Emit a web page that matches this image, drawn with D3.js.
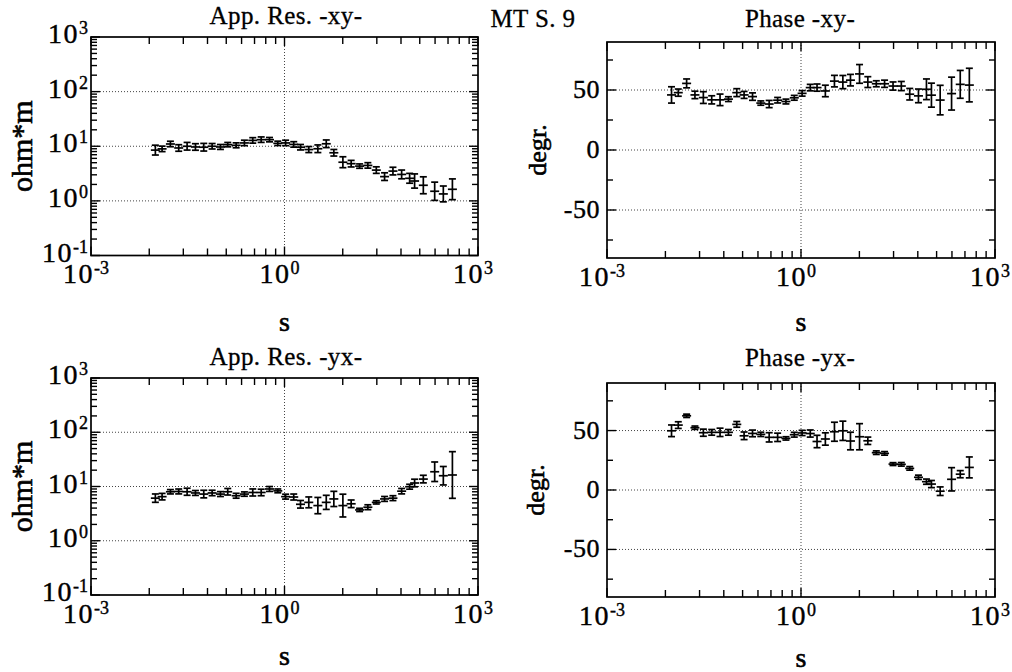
<!DOCTYPE html>
<html><head><meta charset="utf-8">
<script src="https://cdn.jsdelivr.net/npm/d3@7"></script>
<style>
body{margin:0;background:#fff;}
svg{display:block;font-family:"Liberation Serif","Times New Roman",serif;}
</style></head><body>
<svg id="c" width="1012" height="672"></svg>
<script>
// ---------------- data ----------------
const periods = [0.00995, 0.01265, 0.01703, 0.0229, 0.0309, 0.0416, 0.056, 0.0755, 0.1016, 0.1318,
  0.178, 0.239, 0.322, 0.435, 0.585, 0.787, 1.04, 1.39, 1.77, 2.38,
  3.29, 4.44, 5.82, 8.04, 10.8, 14.6, 19.6, 26.5, 35.6, 48.0,
  65.5, 87.1, 104, 142, 213, 290, 401];

const rhoXY = [8.5, 8.95, 11.0, 9.3, 10.0, 9.7, 9.6, 10.0, 9.7, 10.7,
  10.4, 11.5, 12.8, 13.2, 13.2, 11.3, 11.5, 10.8, 9.6, 8.7,
  9.0, 11.1, 7.6, 5.1, 4.8, 4.33, 4.46, 3.66, 2.78, 3.51,
  3.05, 2.59, 2.31, 1.93, 1.5, 1.34, 1.63];
// half-width of the error bar in decades (log10 units)
const rhoXYErr = [0.09, 0.05, 0.05, 0.06, 0.07, 0.06, 0.07, 0.05, 0.045, 0.04,
  0.045, 0.05, 0.05, 0.05, 0.04, 0.04, 0.05, 0.05, 0.05, 0.055,
  0.07, 0.07, 0.06, 0.10, 0.06, 0.04, 0.05, 0.06, 0.07, 0.07,
  0.08, 0.09, 0.13, 0.155, 0.167, 0.145, 0.19];

const phaseXY = [45.9, 47.8, 55.5, 45.9, 43.7, 41.8, 41.8, 42.4, 47.8, 45.9,
  44.5, 39.1, 38.3, 41.5, 40.4, 43.5, 47.2, 52, 52, 49.2,
  57.4, 56.6, 58.2, 63.4, 56.6, 55.2, 55.2, 53.3, 53.3, 46.5,
  45.1, 50.6, 45.7, 41.6, 47, 54.7, 54.1];
const phaseXYErr = [6.8, 3, 3.7, 3.1, 4.9, 3.4, 4.8, 2, 3.3, 2.9,
  3.1, 1.8, 3, 2.3, 2, 2, 2.3, 2.7, 3, 4.8,
  4.8, 5.5, 4.8, 7.8, 4.5, 2.5, 3, 3.4, 3.8, 4.8,
  5.7, 8.6, 10, 12.3, 13.7, 11.6, 14];

const rhoYX = [6.1, 6.5, 8.0, 8.1, 8.0, 7.6, 7.25, 7.6, 7.25, 8.0,
  6.75, 7.25, 7.76, 7.76, 9.0, 8.3, 6.5, 6.4, 4.7, 5.1,
  4.45, 5.1, 5.9, 4.45, 4.8, 3.7, 4.15, 5.1, 5.9, 6.1,
  8.2, 9.9, 11.6, 13.7, 18.7, 15.8, 16.3];
const rhoYXErr = [0.077, 0.06, 0.04, 0.045, 0.065, 0.045, 0.07, 0.05, 0.045, 0.06,
  0.045, 0.04, 0.065, 0.06, 0.045, 0.035, 0.045, 0.055, 0.07, 0.1,
  0.15, 0.13, 0.14, 0.21, 0.07, 0.03, 0.045, 0.03, 0.045, 0.045,
  0.05, 0.045, 0.07, 0.07, 0.18, 0.17, 0.43];

const phaseYX = [49.8, 54.6, 62.4, 52.4, 48.2, 48.5, 48.5, 48.5, 55.2, 45.6,
  47.6, 46.8, 44.3, 44.3, 43.4, 46.5, 48, 47.5, 40.8, 42.9,
  49, 49.8, 41.2, 44.8, 41.4, 31.4, 30.8, 21.8, 21.6, 18.2,
  10.7, 7, 5, -1, 9, 13.3, 19];
const phaseYXErr = [4.9, 2.8, 1.4, 1.4, 3, 2.4, 3.5, 2.4, 2.4, 3.2,
  2.8, 1.8, 3.9, 3.5, 1.4, 2, 2.2, 3, 5.2, 5.2,
  8, 8.1, 7.4, 11, 3.1, 1.5, 1.5, 1.2, 1.5, 1.5,
  1.8, 2.2, 3, 3.6, 9.8, 3, 8.8];

// axis ticks
const xMajorTicks = [0.001, 1, 1000];
const xMajorExp = ["-3", "0", "3"];
const xMinorTicks = [0.008, 0.027, 0.064, 0.125, 0.216, 0.343, 0.512, 0.729,
  8, 27, 64, 125, 216, 343, 512, 729];
const rhoMajorTicks = [0.1, 1, 10, 100, 1000];
const rhoMajorExp = ["-1", "0", "1", "2", "3"];
const rhoGrid = [1, 10, 100];
const phaseMajorTicks = [-50, 0, 50];
const phaseMinorTicks = [-75, -25, 25, 75];
const phaseGrid = [-50, 0, 50];
const xGrid = [1];

const titles = ["App. Res. -xy-", "Phase -xy-", "App. Res. -yx-", "Phase -yx-"];
const mainTitle = "MT S. 9";

// ---------------- drawing ----------------
const svg = d3.select("#c");
svg.append("rect").attr("width", 1012).attr("height", 672).attr("fill", "#fff");

const panels = [
  {title: titles[0], kind: "rho", vals: rhoXY, err: rhoXYErr, box: {l: 91, r: 478, t: 37, b: 255.5}, titleX: 286, titleY: 24, sY: 331, yLab: "ohm*m", yLabX: 21},
  {title: titles[1], kind: "phase", vals: phaseXY, err: phaseXYErr, box: {l: 607, r: 995, t: 42, b: 258}, titleX: 800, titleY: 27, sY: 331, yLab: "degr.", yLabX: 537},
  {title: titles[2], kind: "rho", vals: rhoYX, err: rhoYXErr, box: {l: 91, r: 478, t: 378, b: 595}, titleX: 286, titleY: 365, sY: 665, yLab: "ohm*m", yLabX: 21},
  {title: titles[3], kind: "phase", vals: phaseYX, err: phaseYXErr, box: {l: 607, r: 995, t: 383, b: 597}, titleX: 800, titleY: 366, sY: 667, yLab: "degr.", yLabX: 535}
];

function powText(g, x, y, exp, anchor) {
  const t = g.append("text").attr("x", x).attr("y", y)
    .attr("text-anchor", anchor).attr("font-size", 28).attr("fill", "#000")
    .attr("stroke", "#000").attr("stroke-width", 0.4);
  t.append("tspan").attr("letter-spacing", 1.5).text("10");
  t.append("tspan").attr("dy", -9).attr("font-size", 18).text(exp);
  return t;
}

panels.forEach(p => {
  const b = p.box;
  const g = svg.append("g");
  const x = d3.scaleLog().domain([0.001, 1000]).range([b.l, b.r]);
  const y = p.kind === "rho"
    ? d3.scaleLog().domain([0.1, 1000]).range([b.b, b.t])
    : d3.scaleLinear().domain([-90, 90]).range([b.b, b.t]);

  // grid lines (dotted)
  const grid = g.append("g").attr("stroke", "#444").attr("stroke-width", 1)
    .attr("stroke-dasharray", "1,2");
  (p.kind === "rho" ? rhoGrid : phaseGrid).forEach(v => {
    grid.append("line").attr("x1", b.l).attr("x2", b.r).attr("y1", y(v)).attr("y2", y(v));
  });
  xGrid.forEach(v => {
    grid.append("line").attr("x1", x(v)).attr("x2", x(v)).attr("y1", b.t).attr("y2", b.b);
  });

  // ticks (inward, on all four sides)
  const tk = g.append("g").attr("stroke", "#000").attr("stroke-width", 1.4);
  const xt = (v, len) => {
    tk.append("line").attr("x1", x(v)).attr("x2", x(v)).attr("y1", b.b).attr("y2", b.b - len);
    tk.append("line").attr("x1", x(v)).attr("x2", x(v)).attr("y1", b.t).attr("y2", b.t + len);
  };
  xMajorTicks.forEach(v => xt(v, 9));
  xMinorTicks.forEach(v => xt(v, 7));
  const yt = (v, len) => {
    tk.append("line").attr("x1", b.l).attr("x2", b.l + len).attr("y1", y(v)).attr("y2", y(v));
    tk.append("line").attr("x1", b.r).attr("x2", b.r - len).attr("y1", y(v)).attr("y2", y(v));
  };
  if (p.kind === "rho") {
    rhoMajorTicks.forEach(v => yt(v, 9));
    y.ticks().filter(v => rhoMajorTicks.indexOf(v) < 0).forEach(v => yt(v, 6));
  } else {
    phaseMajorTicks.forEach(v => yt(v, 9));
    phaseMinorTicks.forEach(v => yt(v, 6));
  }

  // frame
  g.append("rect").attr("x", b.l).attr("y", b.t).attr("width", b.r - b.l).attr("height", b.b - b.t)
    .attr("fill", "none").attr("stroke", "#000").attr("stroke-width", 1.7);

  // tick labels
  xMajorTicks.forEach((v, i) => powText(g, x(v) - 5, b.b + 27.5, xMajorExp[i], "middle"));
  if (p.kind === "rho") {
    rhoMajorTicks.forEach((v, i) => powText(g, b.l - 3, y(v) + 6, rhoMajorExp[i], "end"));
  } else {
    phaseMajorTicks.forEach(v => g.append("text").attr("x", b.l - 7).attr("y", y(v) + 8)
      .attr("text-anchor", "end").attr("font-size", 26).attr("letter-spacing", 0.5)
      .attr("stroke", "#000").attr("stroke-width", 0.4).text(v));
  }

  // titles / axis labels
  g.append("text").attr("x", p.titleX).attr("y", p.titleY).attr("text-anchor", "middle")
    .attr("font-size", 25).attr("letter-spacing", 0.4).attr("stroke", "#000").attr("stroke-width", 0.3)
    .text(p.title);
  g.append("text").attr("x", x(1)).attr("y", p.sY).attr("text-anchor", "middle")
    .attr("font-size", 28).attr("stroke", "#000").attr("stroke-width", 0.6).text("s");
  const cy = (b.t + b.b) / 2;
  g.append("text").attr("transform", `translate(${p.yLabX},${cy}) rotate(-90)`)
    .attr("text-anchor", "middle").attr("dy", "0.35em")
    .attr("stroke", "#000").attr("stroke-width", 0.6)
    .attr("font-size", p.kind === "rho" ? 30 : 26).text(p.yLab);

  // data: error bars with centre tick
  const d = periods.map((t, i) => ({t: t, v: p.vals[i], e: p.err[i]}));
  const lo = q => p.kind === "rho" ? q.v / Math.pow(10, q.e) : q.v - q.e;
  const hi = q => p.kind === "rho" ? q.v * Math.pow(10, q.e) : q.v + q.e;
  const m = g.append("g").attr("stroke", "#000").attr("stroke-width", 1.7);
  const pts = m.selectAll("g").data(d).join("g");
  pts.append("line").attr("x1", q => x(q.t)).attr("x2", q => x(q.t))
    .attr("y1", q => y(lo(q))).attr("y2", q => y(hi(q)));
  pts.append("line").attr("x1", q => x(q.t) - 3.5).attr("x2", q => x(q.t) + 3.5)
    .attr("y1", q => y(lo(q))).attr("y2", q => y(lo(q)));
  pts.append("line").attr("x1", q => x(q.t) - 3.5).attr("x2", q => x(q.t) + 3.5)
    .attr("y1", q => y(hi(q))).attr("y2", q => y(hi(q)));
  pts.append("line").attr("x1", q => x(q.t) - 4.5).attr("x2", q => x(q.t) + 4.5)
    .attr("y1", q => y(q.v)).attr("y2", q => y(q.v));
});

svg.append("text").attr("x", 533).attr("y", 27).attr("text-anchor", "middle")
  .attr("font-size", 25).attr("letter-spacing", 0.4).attr("stroke", "#000").attr("stroke-width", 0.3)
  .text(mainTitle);
</script>
</body></html>
